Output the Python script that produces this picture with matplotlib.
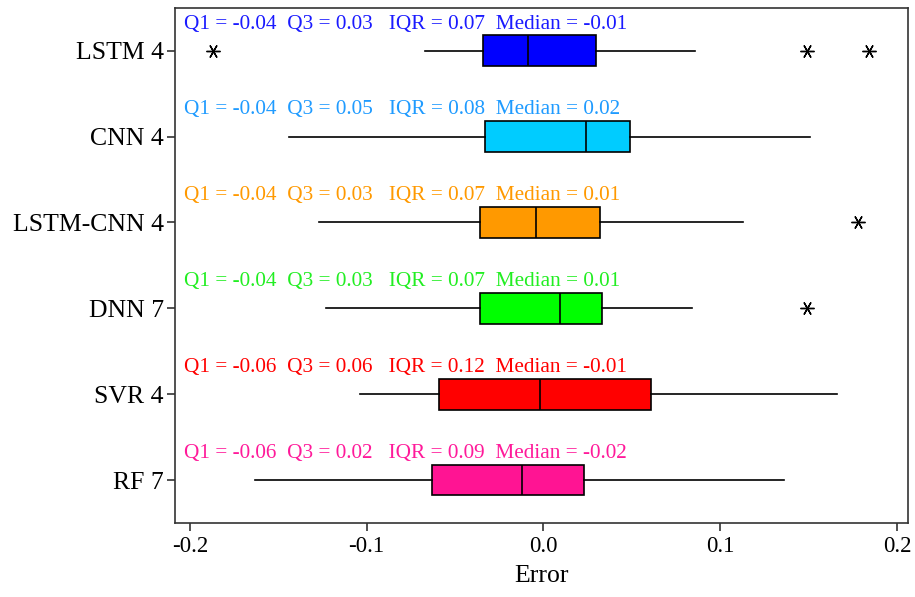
import matplotlib
matplotlib.use("Agg")
import matplotlib.pyplot as plt
from matplotlib.markers import MarkerStyle

plt.rcParams['font.family'] = ['Liberation Serif', 'DejaVu Serif']

models = ["LSTM 4", "CNN 4", "LSTM-CNN 4", "DNN 7", "SVR 4", "RF 7"]
whislo = [-0.067, -0.144, -0.127, -0.123, -0.104, -0.163]
q1 = [-0.034, -0.033, -0.036, -0.036, -0.059, -0.063]
median = [-0.009, 0.024, -0.004, 0.0095, -0.002, -0.012]
q3 = [0.030, 0.049, 0.032, 0.033, 0.061, 0.023]
whishi = [0.086, 0.151, 0.113, 0.084, 0.166, 0.136]
outliers = [[-0.187, 0.149, 0.184], [], [0.178], [0.149], [], []]
labels = [
    "Q1 = -0.04  Q3 = 0.03   IQR = 0.07  Median = -0.01",
    "Q1 = -0.04  Q3 = 0.05   IQR = 0.08  Median = 0.02",
    "Q1 = -0.04  Q3 = 0.03   IQR = 0.07  Median = 0.01",
    "Q1 = -0.04  Q3 = 0.03   IQR = 0.07  Median = 0.01",
    "Q1 = -0.06  Q3 = 0.06   IQR = 0.12  Median = -0.01",
    "Q1 = -0.06  Q3 = 0.02   IQR = 0.09  Median = -0.02",
]
box_colors = ["#0000FF", "#00CCFF", "#FF9900", "#00FF00", "#FF0000", "#FF1493"]
text_colors = ["#1a1aff", "#1f9bff", "#ff9900", "#22ee22", "#ff0000", "#ff1a9a"]
xticks = [-0.2, -0.1, 0.0, 0.1, 0.2]
xticklabels = ["-0.2", "-0.1", "0.0", "0.1", "0.2"]

fig = plt.figure(figsize=(9.15, 5.97), dpi=100)
ax = fig.add_axes([0.191, 0.124, 0.801, 0.863])

n = len(models)
positions = [n - i for i in range(n)]
stats = []
for i in range(n):
    stats.append(dict(med=median[i], q1=q1[i], q3=q3[i], whislo=whislo[i],
                      whishi=whishi[i], fliers=outliers[i], label=models[i]))

ast = MarkerStyle((6, 2, 90))
bp = ax.bxp(stats, positions=positions, vert=False, widths=0.36,
            patch_artist=True, showcaps=False,
            boxprops=dict(edgecolor="black", linewidth=1.2),
            medianprops=dict(color="black", linewidth=1.2),
            whiskerprops=dict(color="black", linewidth=1.2),
            flierprops=dict(marker=ast, markeredgecolor="black",
                            markerfacecolor="black", markersize=10,
                            markeredgewidth=1.0, linestyle="none"))
for patch, c in zip(bp['boxes'], box_colors):
    patch.set_facecolor(c)

for i in range(n):
    ax.text(-0.2035, positions[i] + 0.31, labels[i], color=text_colors[i],
            fontsize=15.3, ha="left", va="center")

ax.set_xlim(-0.2085, 0.206)
ax.set_ylim(0.5, 6.5)
ax.set_yticks(positions)
ax.set_yticklabels(models, fontsize=18.5)
ax.set_xticks(xticks)
ax.set_xticklabels(xticklabels, fontsize=16.5)
ax.tick_params(direction="out", length=6, width=1.2, color="#333333")
ax.tick_params(axis="y", pad=2)
for s in ax.spines.values():
    s.set_linewidth(1.2)
    s.set_color("#333333")
ax.set_xlabel("Error", fontsize=18.5, labelpad=6)

fig.savefig("out.png", dpi=100)
